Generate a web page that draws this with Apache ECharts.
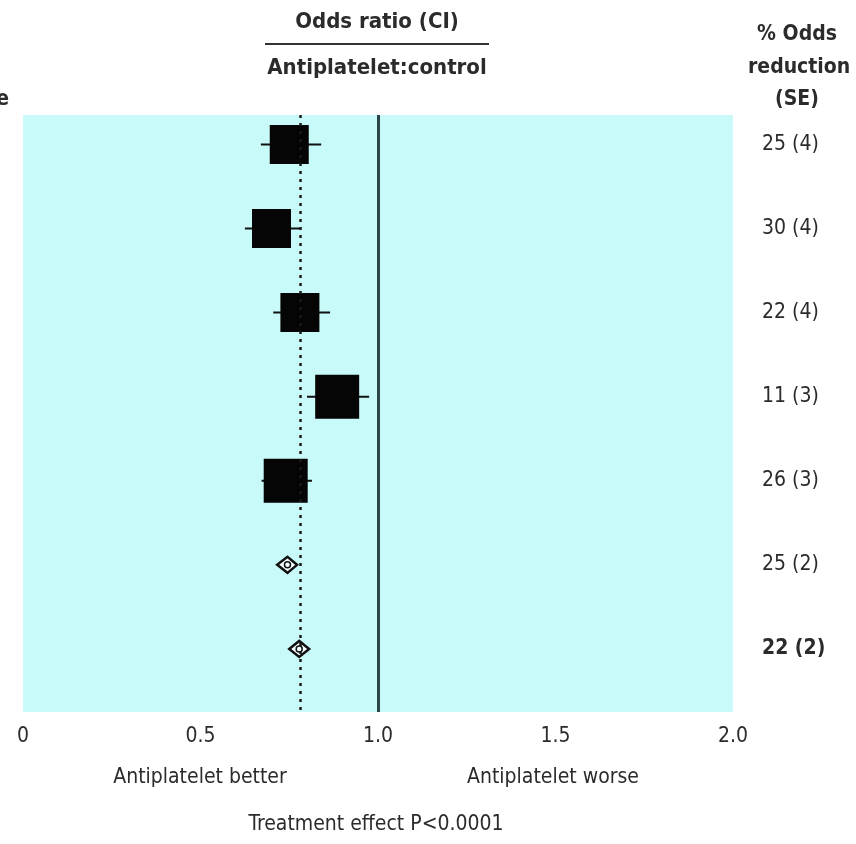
<!DOCTYPE html>
<html><head><meta charset="utf-8">
<script src="https://cdn.jsdelivr.net/npm/echarts@6/dist/echarts.min.js"></script>
<style>html,body{margin:0;padding:0;background:#fff}#c{width:856px;height:844px}</style>
</head><body><div id="c"></div>
<script>
// ---- data ----
const rows = [1, 2, 3, 4, 5, 6, 7];
const oddsRatio = [0.75, 0.70, 0.78, 0.885, 0.74, 0.745, 0.778];
const ciLow = [0.67, 0.625, 0.705, 0.80, 0.672, 0.716, 0.75];
const ciHigh = [0.84, 0.78, 0.865, 0.975, 0.814, 0.772, 0.806];
const rowKind = ['box', 'box', 'box', 'box', 'box', 'diamond', 'diamond'];
const seValues = [4, 4, 4, 3, 3, 2, 2];
const reductionLabels = ['25 (4)', '30 (4)', '22 (4)', '11 (3)', '26 (3)', '25 (2)', '22 (2)'];
const overallOR = 0.78;
const nullOR = 1.0;
const xTicks = [0, 0.5, 1.0, 1.5, 2.0];
const xTickLabels = ['0', '0.5', '1.0', '1.5', '2.0'];

// ---- style ----
const FONT = "'Liberation Sans Narrow', 'DejaVu Sans Condensed', 'Liberation Sans', sans-serif";
const TXT = '#2b2b2b';
const boxPx = {4: 39, 3: 44};

const boxData = [], diaData = [], labelData = [];
rows.forEach((r, i) => {
  const d = [oddsRatio[i], r, ciLow[i], ciHigh[i], seValues[i]];
  if (rowKind[i] === 'box') boxData.push(d); else diaData.push(d);
  labelData.push([2.0, r, i]);
});

const chart = echarts.init(document.getElementById('c'), null, {renderer: 'canvas'});
chart.setOption({
  animation: false,
  backgroundColor: '#ffffff',
  grid: {left: 23, right: 123, top: 115, bottom: 132, show: true, backgroundColor: '#c9fafa', borderWidth: 0},
  xAxis: {
    type: 'value', min: 0, max: 2, interval: 0.5,
    axisLine: {show: false}, axisTick: {show: false}, splitLine: {show: false},
    axisLabel: {
      margin: 14, fontFamily: FONT, fontSize: 21, color: TXT,
      formatter: v => { const k = xTicks.findIndex(t => Math.abs(t - v) < 1e-9); return k >= 0 ? xTickLabels[k] : ''; }
    }
  },
  yAxis: {
    type: 'value', min: 0.65, max: 7.75, inverse: true,
    axisLine: {show: false}, axisTick: {show: false}, splitLine: {show: false}, axisLabel: {show: false}
  },
  series: [
    {
      type: 'line', data: [], silent: true,
      markLine: {
        silent: true, symbol: ['none', 'none'], label: {show: false},
        data: [
          {xAxis: nullOR, lineStyle: {color: '#2a4646', width: 3, type: 'solid'}},
          {xAxis: overallOR, lineStyle: {color: '#1a1a1a', width: 2.5, type: [3, 5]}}
        ]
      }
    },
    {
      type: 'custom', data: boxData, encode: {x: [0, 2, 3], y: 1},
      renderItem: (params, api) => {
        const c = api.coord([api.value(0), api.value(1)]);
        const lo = api.coord([api.value(2), api.value(1)]);
        const hi = api.coord([api.value(3), api.value(1)]);
        const s = boxPx[api.value(4)] || 40;
        return {
          type: 'group', children: [
            {type: 'line', shape: {x1: lo[0], y1: c[1], x2: hi[0], y2: c[1]}, style: {stroke: '#111', lineWidth: 2}},
            {type: 'rect', shape: {x: c[0] - s / 2, y: c[1] - s / 2, width: s, height: s}, style: {fill: '#050505'}}
          ]
        };
      }
    },
    {
      type: 'custom', data: diaData, encode: {x: [0, 2, 3], y: 1},
      renderItem: (params, api) => {
        const c = api.coord([api.value(0), api.value(1)]);
        const lo = api.coord([api.value(2), api.value(1)]);
        const hi = api.coord([api.value(3), api.value(1)]);
        const h = 8;
        return {
          type: 'group', children: [
            {type: 'polygon', shape: {points: [[lo[0], c[1]], [c[0], c[1] - h], [hi[0], c[1]], [c[0], c[1] + h]]},
             style: {fill: '#f4ffff', stroke: '#111', lineWidth: 2.5}},
            {type: 'circle', shape: {cx: c[0], cy: c[1], r: 3}, style: {fill: 'none', stroke: '#111', lineWidth: 1.5}}
          ]
        };
      }
    },
    {
      type: 'custom', data: labelData, encode: {x: 0, y: 1}, clip: false,
      renderItem: (params, api) => {
        const p = api.coord([api.value(0), api.value(1)]);
        const i = api.value(2);
        return {
          type: 'text', x: p[0] + 29, y: p[1],
          style: {text: reductionLabels[i], fontFamily: FONT, fontSize: 21, fill: TXT,
                  fontWeight: i === rows.length - 1 ? 'bold' : 'normal', textAlign: 'left', textVerticalAlign: 'middle'}
        };
      }
    }
  ],
  graphic: [
    {type: 'text', x: 377, y: 22, style: {text: 'Odds ratio (CI)', fontFamily: FONT, fontSize: 22, fontWeight: 'bold', fill: TXT, textAlign: 'center', textVerticalAlign: 'middle'}},
    {type: 'line', shape: {x1: 265, y1: 44, x2: 489, y2: 44}, style: {stroke: '#333', lineWidth: 2}},
    {type: 'text', x: 377, y: 68, style: {text: 'Antiplatelet:control', fontFamily: FONT, fontSize: 22, fontWeight: 'bold', fill: TXT, textAlign: 'center', textVerticalAlign: 'middle'}},
    {type: 'text', x: 797, y: 35, style: {text: '% Odds', fontFamily: FONT, fontSize: 21, fontWeight: 'bold', fill: TXT, textAlign: 'center', textVerticalAlign: 'middle'}},
    {type: 'text', x: 748, y: 68, style: {text: 'reduction', fontFamily: FONT, fontSize: 21, fontWeight: 'bold', fill: TXT, textAlign: 'left', textVerticalAlign: 'middle'}},
    {type: 'text', x: 797, y: 100, style: {text: '(SE)', fontFamily: FONT, fontSize: 21, fontWeight: 'bold', fill: TXT, textAlign: 'center', textVerticalAlign: 'middle'}},
    {type: 'text', x: 9, y: 100, style: {text: 'e', fontFamily: FONT, fontSize: 21, fontWeight: 'bold', fill: TXT, textAlign: 'right', textVerticalAlign: 'middle'}},
    {type: 'text', x: 200, y: 778, style: {text: 'Antiplatelet better', fontFamily: FONT, fontSize: 21, fill: TXT, textAlign: 'center', textVerticalAlign: 'middle'}},
    {type: 'text', x: 553, y: 778, style: {text: 'Antiplatelet worse', fontFamily: FONT, fontSize: 21, fill: TXT, textAlign: 'center', textVerticalAlign: 'middle'}},
    {type: 'text', x: 376, y: 825, style: {text: 'Treatment effect P<0.0001', fontFamily: FONT, fontSize: 21, fill: TXT, textAlign: 'center', textVerticalAlign: 'middle'}}
  ]
});
</script></body></html>
